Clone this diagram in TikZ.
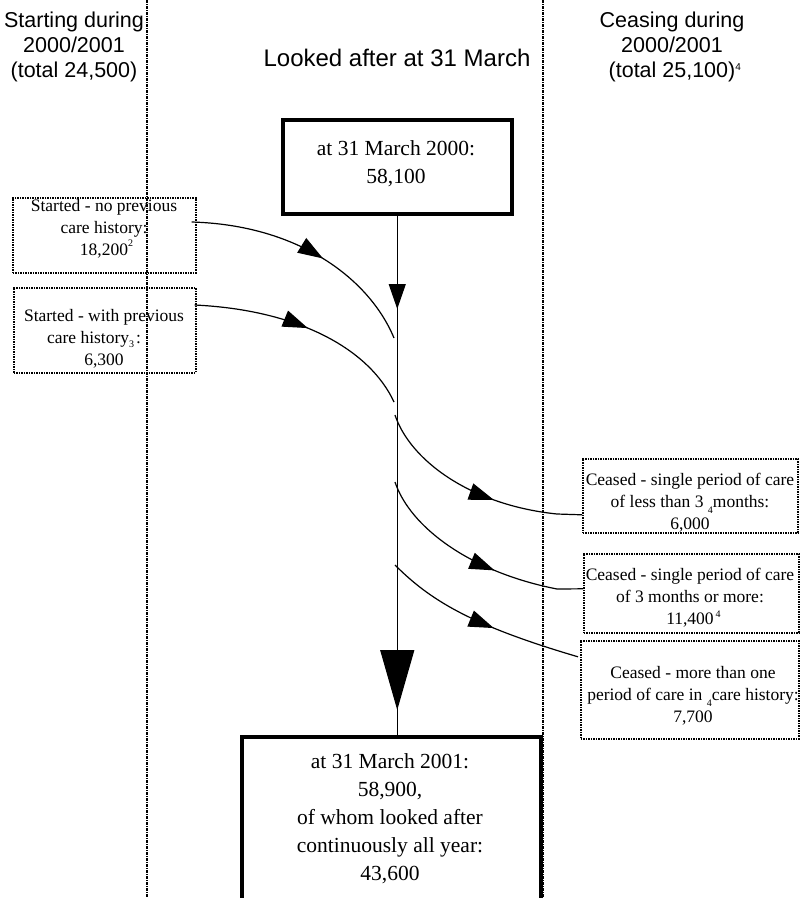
\documentclass[tikz,border=0pt]{standalone}
\usepackage{fontspec}
\setmainfont{Liberation Serif}
\newfontfamily\hdrfont{Liberation Sans}
\usetikzlibrary{arrows.meta,decorations.markings,calc}
\newcommand{\supx}[1]{{\fontsize{10}{10}\selectfont #1}}
\begin{document}
\begin{tikzpicture}[x=1pt,y=-1pt,
  hdr/.style={font=\hdrfont\fontsize{21.5}{25}\selectfont, align=center, inner sep=0},
  bigtext/.style={font=\fontsize{21.5}{28}\selectfont, align=center, inner sep=0},
  smalltext/.style={font=\fontsize{17.5}{22}\selectfont, align=center, inner sep=0},
  sepline/.style={line width=1.3pt, dash pattern=on 3pt off 1pt on 1pt off 1pt},
  dotbox/.style={draw, line width=1.6pt, dash pattern=on 1.6pt off 0.9pt, anchor=north west, inner sep=0},
  thickbox/.style={draw, line width=3.5pt, anchor=north west, inner sep=0},
  flow/.style={line width=1.2pt},
  midarrow/.style={postaction={decorate}, decoration={markings, mark=at position #1 with {\arrow{Triangle[length=25pt,width=17pt]}}}}
]
\useasboundingbox (0,0) rectangle (800,898);

% separators
\coordinate (sepLt) at (147,0); \coordinate (sepLb) at (147,898);
\coordinate (sepRt) at (543,0); \coordinate (sepRb) at (543,898);
\draw[sepline] (sepLt) -- (sepLb);
\draw[sepline] (sepRt) -- (sepRb);

% headers
\node[hdr] (hL) at (74,47) {Starting during\\2000/2001\\(total 24,500)};
\node[hdr, font=\hdrfont\fontsize{24}{25}\selectfont] (hM) at (397,58) {Looked after at 31 March};
\node[hdr] (hR) at (672,47) {Ceasing during\\2000/2001\\(total 25,100)\rlap{\raisebox{7pt}{\supx{4}}}};

% main boxes
\node[thickbox, minimum width=229pt, minimum height=94pt] (top) at (281,118) {};
\node[bigtext] (topt) at (396,164) {at 31 March 2000:\\58,100};
\node[thickbox, minimum width=299pt, minimum height=180pt] (bot) at (240,735) {};
\node[bigtext] (bott) at (390,819) {at 31 March 2001:\\58,900,\\of whom looked after\\continuously all year:\\43,600};

% main vertical flow
\draw[flow, postaction={decorate}, decoration={markings,
   mark=at position 0.18 with {\arrow{Triangle[length=25pt,width=17pt]}},
   mark=at position 0.952 with {\arrow{Triangle[length=60pt,width=34pt]}}}]
   (top.south) -- (top.south |- bot.north);

% left boxes
\node[dotbox, minimum width=183pt, minimum height=75pt] (L1) at (12,197) {};
\node[smalltext] (L1t) at (104,228.5) {Started - no previous\\care history:\\18,200\rlap{\raisebox{9pt}{\supx{2}}}};
\node[dotbox, minimum width=182pt, minimum height=85pt] (L2) at (13,287) {};
\node[smalltext] (L2t) at (104,339) {Started - with previous\\care history\raisebox{-4pt}{\supx{3}}\kern2pt:\rule{20pt}{0pt}\\6,300};

% right boxes
\node[dotbox, minimum width=215pt, minimum height=74pt] (R1) at (582,458) {};
\node[smalltext] (R1t) at (690,502.5) {Ceased - single period of care\\of less than 3 \raisebox{-6pt}{\supx{4}}months:\\6,000};
\node[dotbox, minimum width=215pt, minimum height=79pt] (R2) at (583,553) {};
\node[smalltext] (R2t) at (690,598) {Ceased - single period of care\\of 3 months or more:\\11,400\rlap{\hspace{2pt}\raisebox{7pt}{\supx{4}}}};
\node[dotbox, minimum width=218pt, minimum height=98pt] (R3) at (580,640) {};
\node[smalltext] (R3t) at (693,696) {Ceased - more than one\\period of care in \raisebox{-6pt}{\supx{4}}care history:\\7,700};

% junctions on the vertical line
\coordinate (j1) at (394,338);
\coordinate (j2) at (394,402);
\coordinate (j3) at (395,415);
\coordinate (j4) at (395,482);
\coordinate (j5) at (395,565);

% incoming flows
\draw[flow, midarrow=0.56] ([xshift=-5pt,yshift=-25pt]L1.north east) .. controls (300,225) and (370,280) .. (j1);
\draw[flow, midarrow=0.5] ([xshift=-2pt,yshift=-18pt]L2.north east) .. controls (300,310) and (370,350) .. (j2);

% outgoing flows
\draw[flow, midarrow=0.6] (j3) .. controls (410,460) and (470,505) .. (557,514) -- ([yshift=-19pt]R1.west);
\draw[flow, midarrow=0.6] (j4) .. controls (410,527) and (470,572) .. (557,589) -- ([yshift=4.5pt]R2.west);
\draw[flow, midarrow=0.57] (j5) .. controls (430,600) and (470,625) .. ([xshift=-2pt,yshift=33pt]R3.west);
\end{tikzpicture}
\end{document}
